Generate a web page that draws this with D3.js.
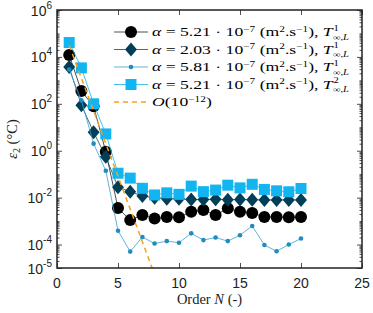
<!DOCTYPE html>
<html><head><meta charset="utf-8">
<script src="https://cdn.jsdelivr.net/npm/d3@7"></script>
<style>
html,body{margin:0;padding:0;background:#fff;}
svg{display:block;}
</style></head>
<body>
<svg id="chart" width="373" height="313"></svg>
<script>
// ---- data ----
const orders = [1,2,3,4,5,6,7,8,9,10,11,12,13,14,15,16,17,18,19,20];
const errCircle = [1.2e4,3.5e2,78,0.9,3.6e-3,1.1e-3,1.8e-3,1.3e-3,1.5e-3,1.45e-3,2.5e-3,2.95e-3,1.8e-3,3.5e-3,2.5e-3,2.2e-3,1.5e-3,1.5e-3,1.45e-3,1.5e-3];
const errDiamond = [3.7e3,87,6.2,0.55,0.028,0.018,0.0117,0.010,0.0089,0.0089,0.0083,0.0083,0.0085,0.0082,0.0083,0.0082,0.0080,0.0080,0.0080,0.0080];
const errDot = [2.9e3,1.4e2,2.0,0.14,3.9e-4,5.0e-5,2.1e-4,1.1e-4,1.4e-4,1.2e-4,3.0e-4,1.55e-4,2.0e-4,1.4e-4,2.5e-4,6.2e-4,9.5e-5,5.2e-5,1.0e-4,1.8e-4];
const errSquare = [4.1e4,3.4e3,1.0e2,5.2,0.11,0.068,0.025,0.013,0.016,0.0138,0.031,0.018,0.021,0.034,0.026,0.037,0.0224,0.0195,0.0178,0.0245];
const refOrders = [1, 7.8];
const refErr = [3.1e4, 1e-5];
const xTicks = [0,5,10,15,20,25];
const yTickExp = [6,4,2,0,-2,-4,-5];
const legendAlpha = ["5.21","2.03","5.81","5.21"];
const legendT = ["1","1","1","2"];
const legendRef = "(10";
const refExp = "−12";

// ---- layout ----
const L=57, R=362, T=10, B=268;
const svg = d3.select("#chart");
const x = d3.scaleLinear().domain([0,25]).range([L,R]);
const y = d3.scaleLog().domain([1e-5,1e6]).range([B,T]);

const sansFont = "'Liberation Sans', Arial, sans-serif";
const serifFont = "'Liberation Serif', 'Times New Roman', serif";

svg.append("defs").append("clipPath").attr("id","clip")
  .append("rect").attr("x",L).attr("y",T).attr("width",R-L).attr("height",B-T);

// ---- axes ticks ----
const majorY = yTickExp.map(e=>Math.pow(10,e));
const minorY = [];
for(let e=-5;e<6;e++){ for(let m=1;m<10;m++){ const v=m*Math.pow(10,e); if(!(m===1 && yTickExp.includes(e))) minorY.push(v);} }

function styleAxis(g){ g.select(".domain").remove(); g.selectAll("line").attr("stroke","#222").attr("stroke-width",0.8); g.selectAll("text").remove(); }

svg.append("g").attr("transform",`translate(${L},0)`).call(d3.axisLeft(y).tickValues(majorY).tickSize(-5).tickFormat("")).call(styleAxis);
svg.append("g").attr("transform",`translate(${L},0)`).call(d3.axisLeft(y).tickValues(minorY).tickSize(-2.5).tickFormat("")).call(styleAxis);
svg.append("g").attr("transform",`translate(${R},0)`).call(d3.axisRight(y).tickValues(majorY).tickSize(-5).tickFormat("")).call(styleAxis);
svg.append("g").attr("transform",`translate(${R},0)`).call(d3.axisRight(y).tickValues(minorY).tickSize(-2.5).tickFormat("")).call(styleAxis);
svg.append("g").attr("transform",`translate(0,${B})`).call(d3.axisBottom(x).tickValues(xTicks).tickSize(-5).tickFormat("")).call(styleAxis);
svg.append("g").attr("transform",`translate(0,${T})`).call(d3.axisTop(x).tickValues(xTicks).tickSize(-5).tickFormat("")).call(styleAxis);

// x tick labels
svg.append("g").selectAll("text").data(xTicks).join("text")
  .attr("x",d=>x(d)).attr("y",B+20).attr("text-anchor","middle")
  .style("font",`14px ${sansFont}`).attr("fill","#222").text(d=>d);

// y tick labels
yTickExp.forEach(e=>{
  const t = svg.append("text").attr("x",52).attr("y",y(Math.pow(10,e))+5.5)
    .attr("text-anchor","end").style("font",`14px ${sansFont}`).attr("fill","#222");
  t.append("tspan").text("10");
  t.append("tspan").attr("dy",-7).style("font-size","10px").text(e<0? "-"+(-e) : String(e));
});

// axis labels
const xl = svg.append("text").attr("x",(L+R)/2).attr("y",304).attr("text-anchor","middle")
  .style("font",`14.5px ${serifFont}`).attr("fill","#222");
xl.append("tspan").text("Order ");
xl.append("tspan").style("font-style","italic").text("N");
xl.append("tspan").text(" (-)");

const yl = svg.append("text").attr("transform",`translate(17,${(T+B)/2}) rotate(-90)`).attr("text-anchor","middle")
  .style("font",`14.5px ${serifFont}`).attr("fill","#222");
yl.append("tspan").style("font-style","italic").text("ε");
yl.append("tspan").attr("dy",3).style("font-size","10px").text("2");
yl.append("tspan").attr("dy",-3).text(" (°C)");

// ---- series ----
const series = [
  {vals: errCircle, line:"#222", lw:0.8, marker:"circle", fill:"#000", size:6},
  {vals: errDiamond, line:"#0b4a60", lw:0.8, marker:"diamond", fill:"#003f57", size:7},
  {vals: errDot, line:"#3a9fd0", lw:0.8, marker:"dot", fill:"#1e8cbe", size:2.3},
  {vals: errSquare, line:"#16b2ee", lw:0.8, marker:"square", fill:"#12b5f0", size:5.5},
];
const plot = svg.append("g").attr("clip-path","url(#clip)");
const lineGen = d3.line().x(d=>x(d[0])).y(d=>y(d[1]));

function drawMarker(g, type, cx, cy, s, fill){
  if(type==="circle"||type==="dot"){
    g.append("circle").attr("cx",cx).attr("cy",cy).attr("r",s).attr("fill",fill);
  } else if(type==="diamond"){
    g.append("path").attr("d",`M${cx},${cy-s}L${cx+s*0.85},${cy}L${cx},${cy+s}L${cx-s*0.85},${cy}Z`).attr("fill",fill);
  } else if(type==="square"){
    g.append("rect").attr("x",cx-s).attr("y",cy-s).attr("width",2*s).attr("height",2*s).attr("fill",fill);
  }
}

series.forEach(s=>{
  const pts = orders.map((n,i)=>[n,s.vals[i]]);
  plot.append("path").attr("d",lineGen(pts)).attr("fill","none").attr("stroke",s.line).attr("stroke-width",s.lw);
  const mg = plot.append("g");
  pts.forEach(p=>drawMarker(mg, s.marker, x(p[0]), y(p[1]), s.size, s.fill));
});

// reference dashed line
plot.append("path").attr("d",lineGen(refOrders.map((n,i)=>[n,refErr[i]])))
  .attr("fill","none").attr("stroke","#f7a11a").attr("stroke-width",1.5).attr("stroke-dasharray","5,4");

// ---- box ----
svg.append("rect").attr("x",L).attr("y",T).attr("width",R-L).attr("height",B-T)
  .attr("fill","none").attr("stroke","#222").attr("stroke-width",1.5);

// ---- legend ----
const lg = svg.append("g");
const rowY = [32, 49.5, 67, 84.5, 102];
const TX = 152;
const texts = [];
const SUP = "8px";
series.forEach((s,i)=>{
  const yy = rowY[i];
  lg.append("line").attr("x1",114).attr("x2",148).attr("y1",yy).attr("y2",yy).attr("stroke",s.line).attr("stroke-width",s.lw);
  drawMarker(lg, s.marker, 131, yy, s.size, s.fill);
  const row = lg.append("g");
  const t = row.append("text").attr("x",0).attr("y",0).style("font",`12.5px ${serifFont}`).attr("fill","#000");
  t.append("tspan").style("font-style","italic").text("α");
  t.append("tspan").text(" = "+legendAlpha[i]+" · 10");
  t.append("tspan").attr("dy",-4.5).style("font-size",SUP).text("−7");
  t.append("tspan").attr("dy",4.5).text(" (m");
  t.append("tspan").attr("dy",-4.5).style("font-size",SUP).text("2");
  t.append("tspan").attr("dy",4.5).text(".s");
  t.append("tspan").attr("dy",-4.5).style("font-size",SUP).text("−1");
  t.append("tspan").attr("dy",4.5).text("),  ");
  t.append("tspan").style("font-style","italic").text("T");
  const wT = t.node().getComputedTextLength();
  row.append("text").attr("x",wT+0.5).attr("y",-5.5).style("font",`7.5px ${serifFont}`).text(legendT[i]);
  const sub = row.append("text").attr("x",wT).attr("y",3.5).style("font",`7.5px ${serifFont}`);
  sub.append("tspan").text("∞,");
  sub.append("tspan").style("font-style","italic").text("L");
  texts.push({t: row, yy});
});
{
  const yy = rowY[4];
  lg.append("line").attr("x1",114).attr("x2",148).attr("y1",yy).attr("y2",yy).attr("stroke","#f7a11a").attr("stroke-width",1.5).attr("stroke-dasharray","5,4");
  const t = lg.append("text").attr("x",0).attr("y",0).style("font",`12.5px ${serifFont}`).attr("fill","#000");
  t.append("tspan").style("font-style","italic").text("O");
  t.append("tspan").text(legendRef);
  t.append("tspan").attr("dy",-4.5).style("font-size",SUP).text(refExp);
  t.append("tspan").attr("dy",4.5).text(")");
  texts.push({t, yy});
}
// stretch legend text horizontally to match the reference's wider math font
const w0 = texts[0].t.node().getBBox().width;
const sx = 197 / w0;
texts.forEach(o=>o.t.attr("transform",`translate(${TX},${o.yy+4}) scale(${sx},1)`));
</script>
</body></html>
